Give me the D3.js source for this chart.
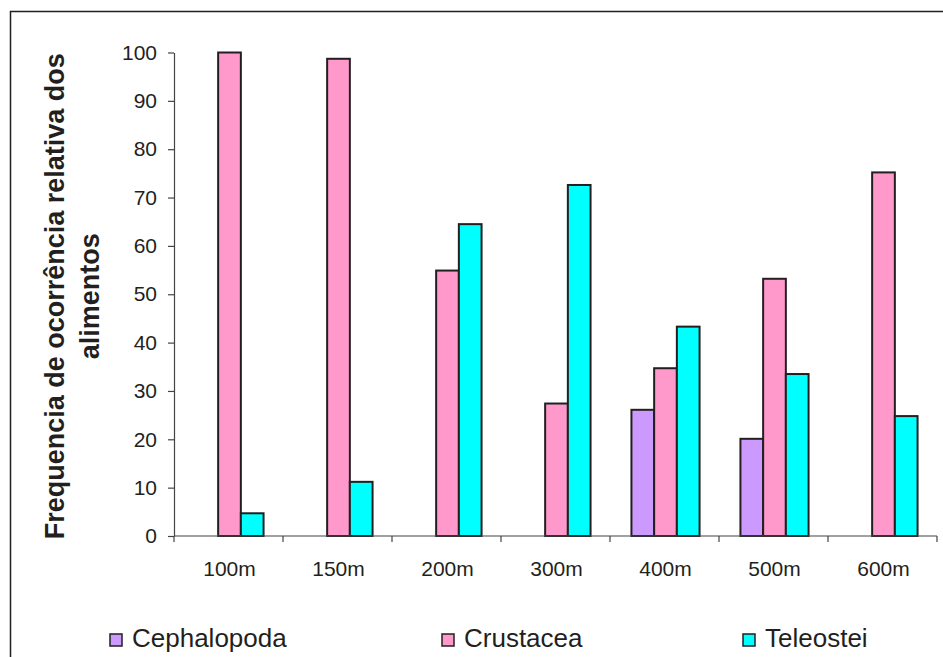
<!DOCTYPE html>
<html>
<head>
<meta charset="utf-8">
<script src="https://cdn.jsdelivr.net/npm/d3@7"></script>
<style>
  html, body { margin: 0; padding: 0; background: #fff; }
  svg { display: block; font-family: "Liberation Sans", Arial, sans-serif; }
</style>
</head>
<body>
<svg id="chart" width="943" height="657"></svg>
<script>
// Depth strata and the diet groups found at each one
const depths = ["100m", "150m", "200m", "300m", "400m", "500m", "600m"];
const groups = ["Cephalopoda", "Crustacea", "Teleostei"];
const cephalopoda = [0, 0, 0, 0, 26.1, 20.1, 0];
const crustacea = [100, 98.7, 54.9, 27.4, 34.7, 53.2, 75.2];
const teleostei = [4.7, 11.2, 64.5, 72.6, 43.3, 33.5, 24.8];
const yTicks = [0, 10, 20, 30, 40, 50, 60, 70, 80, 90, 100];
const groupColors = ["#CC99FF", "#FF99CC", "#00FFFF"];

const seriesValues = [cephalopoda, crustacea, teleostei];
const rows = depths.map((d, i) => ({
  depth: d,
  values: groups.map((g, j) => ({ group: g, value: seriesValues[j][i] }))
}));

const svg = d3.select("#chart");
const ink = "#231f20";

// outer frame
svg.append("rect")
  .attr("x", 10.5).attr("y", 11.5)
  .attr("width", 960).attr("height", 700)
  .attr("fill", "none").attr("stroke", ink).attr("stroke-width", 1.5);

const plot = { left: 174, right: 937, top: 52.5, bottom: 536 };

const x = d3.scaleBand().domain(depths).range([plot.left, plot.right]).paddingInner(0).paddingOuter(0);
const xs = d3.scaleBand().domain(groups).range([0, x.bandwidth()]).paddingInner(0).paddingOuter(0.9);
const y = d3.scaleLinear().domain([0, 100]).range([plot.bottom, plot.top]);
const color = d3.scaleOrdinal().domain(groups).range(groupColors);

// bars
const g = svg.append("g");
g.selectAll("g.depth")
  .data(rows)
  .join("g")
  .attr("class", "depth")
  .attr("transform", d => `translate(${x(d.depth) + 1},0)`)
  .selectAll("rect")
  .data(d => d.values.filter(v => v.value > 0))
  .join("rect")
  .attr("x", v => xs(v.group))
  .attr("y", v => y(v.value))
  .attr("width", xs.bandwidth())
  .attr("height", v => y(0) - y(v.value))
  .attr("fill", v => color(v.group))
  .attr("stroke", ink)
  .attr("stroke-width", 2);

// y axis
const yAxis = svg.append("g")
  .attr("transform", `translate(${plot.left},0)`)
  .call(d3.axisLeft(y).tickValues(yTicks).tickSize(6).tickPadding(11).tickSizeOuter(0));
yAxis.select(".domain").attr("stroke", "#444").attr("stroke-width", 1.2);
yAxis.selectAll(".tick line").attr("stroke", "#444").attr("stroke-width", 1.2);
yAxis.selectAll(".tick text")
  .attr("fill", ink).attr("font-size", 21)
  .attr("font-family", "Liberation Sans, Arial, sans-serif");

// x axis: ticks sit between the depth categories
const xAxisG = svg.append("g").attr("transform", `translate(0,${plot.bottom})`);
xAxisG.append("line")
  .attr("x1", plot.left).attr("x2", plot.right)
  .attr("stroke", "#444").attr("stroke-width", 1.2);
const boundaries = depths.map(d => x(d)).concat([x(depths[depths.length - 1]) + x.bandwidth()]);
xAxisG.selectAll("line.tick")
  .data(boundaries)
  .join("line")
  .attr("class", "tick")
  .attr("x1", d => d).attr("x2", d => d)
  .attr("y1", 0).attr("y2", 6)
  .attr("stroke", "#444").attr("stroke-width", 1.2);
xAxisG.selectAll("text")
  .data(depths)
  .join("text")
  .attr("x", d => x(d) + x.bandwidth() / 2 + 1)
  .attr("y", 40)
  .attr("text-anchor", "middle")
  .attr("font-size", 21)
  .attr("fill", ink)
  .text(d => d);

// y axis title, two lines
const titleCy = (plot.top + plot.bottom) / 2 + 2;
const title = svg.append("text")
  .attr("transform", `translate(0,${titleCy}) rotate(-90)`)
  .attr("text-anchor", "middle")
  .attr("font-weight", "bold")
  .attr("font-size", 27)
  .attr("fill", ink);
title.append("tspan").attr("x", 0).attr("y", 64).text("Frequencia de ocorrência relativa dos");
title.append("tspan").attr("x", 0).attr("y", 99).text("alimentos");

// legend
const legendX = [110, 442, 743];
const legend = svg.append("g");
const items = legend.selectAll("g")
  .data(groups)
  .join("g")
  .attr("transform", (d, i) => `translate(${legendX[i]},634)`);
items.append("rect")
  .attr("width", 12).attr("height", 12)
  .attr("fill", d => color(d))
  .attr("stroke", ink).attr("stroke-width", 1.5);
items.append("text")
  .attr("x", 22).attr("y", 12.5)
  .attr("font-size", 26)
  .attr("fill", ink)
  .text(d => d);
</script>
</body>
</html>
